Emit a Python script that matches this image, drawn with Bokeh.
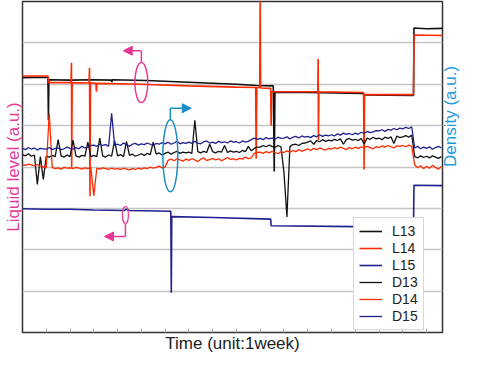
import math
from bokeh.plotting import figure
from bokeh.models import (Range1d, FixedTicker, LinearAxis, Legend, LegendItem,
                          Arrow, NormalHead, Ellipse, ColumnDataSource)
from bokeh.embed import file_html
from bokeh.resources import INLINE

# ---------------- data (time in weeks, values in arbitrary units) ----------------
L13_t = [0, 1.07, 1.09, 1.11, 2.0, 3.0, 3.74, 3.76, 3.78, 5.2, 7.0, 9.0, 9.83, 10.55, 10.59, 10.62, 12.0, 14.3, 14.4, 16.45, 16.47, 17.0, 17.69]
L13_v = [6.16, 6.17, 5.13, 6.11, 6.10, 6.11, 6.10, 6.05, 6.11, 6.09, 6.05, 6.00, 5.97, 5.96, 3.89, 5.80, 5.80, 5.78, 5.74, 5.73, 7.36, 7.34, 7.35]

L14_t = [0, 1.07, 1.10, 2.04, 2.06, 2.07, 2.09, 2.80, 2.82, 2.84, 2.86, 3.09, 3.11, 3.13, 5.0, 7.0, 9.0, 9.81, 9.83, 9.86, 9.98, 10.0, 10.02, 10.44, 10.46, 10.48, 12.42, 12.44, 12.45, 12.47, 14.35, 14.37, 14.39, 16.45, 16.47, 17.69]
L14_v = [6.20, 6.20, 6.04, 6.04, 6.52, 3.99, 6.04, 6.03, 6.40, 3.29, 6.03, 6.02, 5.82, 6.02, 6.00, 5.96, 5.93, 5.92, 4.20, 5.92, 5.92, 8.10, 5.91, 5.90, 5.00, 5.82, 5.82, 6.61, 4.65, 5.82, 5.80, 3.94, 5.75, 5.75, 7.19, 7.18]

L15_t = [0, 1.0, 2.0, 3.0, 4.3, 4.35, 4.5, 6.24, 6.26, 6.28, 8.0, 10.44, 10.46, 14.0, 16.45, 16.47, 17.69]
L15_v = [2.99, 2.98, 2.98, 2.96, 2.95, 2.98, 2.95, 2.93, 0.96, 2.80, 2.78, 2.74, 2.58, 2.56, 2.55, 3.56, 3.55]

density_step_weeks = 0.125

D13_v = [
    4.30, 4.27, 4.32, 4.26, 4.29, 3.58, 4.25, 3.70,
    4.26, 4.24, 4.28, 4.25, 4.66, 4.27, 4.24, 4.29,
    4.25, 4.65, 4.27, 4.24, 4.28, 4.26, 4.60, 4.25,
    4.28, 4.25, 4.70, 4.27, 4.24, 4.29, 4.26, 4.64,
    4.27, 4.30, 4.25, 4.62, 4.28, 4.31, 4.26, 4.29,
    4.32, 4.28, 4.33, 4.30, 4.60, 4.31, 4.34, 4.29,
    4.33, 4.36, 4.31, 4.35, 4.38, 4.33, 4.36, 4.34,
    4.36, 4.33, 5.13, 4.37, 4.34, 4.38, 4.35, 4.55,
    4.37, 4.34, 4.38, 4.36, 4.52, 4.35, 4.39, 4.36,
    4.38, 4.35, 4.40, 4.37, 4.50, 4.39, 4.45, 4.48,
    4.48, 4.52, 4.49, 4.53, 4.50, 4.47, 4.52, 4.49,
    3.87, 2.79, 4.50, 4.54, 4.55, 4.52, 4.57, 4.58,
    4.60, 4.63, 4.55, 4.64, 4.61, 4.66, 4.62, 4.65,
    4.63, 4.67, 4.64, 4.68, 4.55, 4.66, 4.69, 4.65,
    4.67, 4.64, 4.69, 4.56, 4.70, 4.67, 4.72, 4.68,
    4.70, 4.66, 4.72, 4.69, 4.73, 4.57, 4.75, 4.71,
    4.73, 4.76, 4.72, 4.77, 4.25, 4.22, 4.27, 4.23,
    4.26, 4.22, 4.27, 4.24, 4.21, 4.25,
]

D14_v = [
    4.06, 4.04, 4.07, 4.05, 4.03, 4.06, 4.02, 4.00,
    3.98, 5.30, 3.99, 3.96, 3.98, 3.95, 3.99, 3.97,
    3.98, 3.96, 3.99, 3.97, 3.95, 3.98, 3.96, 3.99,
    3.30, 3.97, 3.95, 3.98, 3.96, 3.94, 3.97, 3.95,
    3.96, 3.94, 3.97, 3.95, 3.93, 3.96, 3.94, 3.97,
    3.95, 3.98, 3.96, 4.00, 3.97, 3.99, 4.02, 3.98,
    4.00, 4.16, 4.19, 4.15, 4.20, 4.17, 4.14, 4.19,
    4.16, 4.20, 4.17, 4.13, 4.19, 4.22, 4.16, 4.18,
    4.21, 4.17, 4.20, 4.15, 4.19, 4.23, 4.18, 4.20,
    4.17, 4.21, 4.19, 4.24, 4.20, 4.22, 4.33, 4.35,
    4.36, 4.33, 4.37, 4.34, 4.38, 4.35, 4.32, 4.37,
    4.35, 4.39, 4.36, 4.40, 4.37, 4.42, 4.38, 4.41,
    4.44, 4.40, 4.45, 4.42, 4.46, 4.43, 4.41, 4.45,
    4.43, 4.47, 4.44, 4.48, 4.45, 4.42, 4.47, 4.44,
    4.48, 4.45, 4.49, 4.46, 4.50, 4.47, 4.44, 4.49,
    4.47, 4.51, 4.48, 4.52, 4.49, 4.46, 4.51, 4.50,
    4.52, 4.49, 4.53, 4.50, 4.05, 3.98, 4.03, 3.96,
    4.02, 3.97, 4.04, 3.99, 3.95, 4.01,
]

D15_v = [
    4.45, 4.42, 4.47, 4.43, 4.46, 4.41, 4.45, 4.44,
    4.43, 4.47, 4.42, 4.45, 4.46, 4.42, 4.44, 4.48,
    4.45, 4.43, 4.47, 4.44, 4.50, 4.46, 4.48, 4.52,
    4.53, 4.50, 4.55, 4.52, 4.54, 4.50, 5.30, 4.53,
    4.55, 4.52, 4.58, 4.54, 4.50, 4.55, 4.57, 4.53,
    4.56, 4.54, 4.58, 4.55, 4.52, 4.57, 4.55, 4.59,
    4.56, 4.60, 4.55, 4.58, 4.62, 4.56, 4.59, 4.57,
    4.60, 4.57, 4.62, 4.58, 4.56, 4.61, 4.63, 4.58,
    4.60, 4.57, 4.62, 4.59, 4.61, 4.58, 4.63, 4.60,
    4.61, 4.58, 4.63, 4.60, 4.62, 4.66, 4.70, 4.67,
    4.69, 4.66, 4.71, 4.68, 4.70, 4.67, 4.72, 4.69,
    4.70, 4.73, 4.68, 4.72, 4.74, 4.70, 4.75, 4.72,
    4.74, 4.71, 4.76, 4.73, 4.78, 4.74, 4.77, 4.75,
    4.78, 4.75, 4.80, 4.77, 4.82, 4.79, 4.81, 4.78,
    4.82, 4.79, 4.84, 4.81, 4.86, 4.83, 4.85, 4.88,
    4.87, 4.90, 4.86, 4.91, 4.89, 4.93, 4.90, 4.94,
    4.92, 4.96, 4.93, 4.97, 4.46, 4.50, 4.44, 4.48,
    4.45, 4.49, 4.43, 4.47, 4.50, 4.46,
]

x_ticks = list(range(1, 18))
y_grid = [1, 2, 3, 4, 5, 6, 7]
X_MAX = 17.67
Y_MAX = 8

# ---------------- styling ----------------
FONT = "Liberation Sans"
PINK = "#e8399a"
CYAN = "#1f9ad8"
ELL_BLUE = "#1b8cc4"
BLACK = "#111111"
RED = "#ff2a00"
NAVY = "#20208f"

p = figure(width=472, height=355, output_backend="svg", toolbar_location=None,
           x_range=Range1d(0, X_MAX), y_range=Range1d(0, Y_MAX),
           min_border_left=18, min_border_right=20, min_border_top=1, min_border_bottom=0)

p.outline_line_color = "#333333"
p.outline_line_width = 1.5
p.xgrid.visible = False
p.ygrid.ticker = FixedTicker(ticks=y_grid)
p.ygrid.grid_line_color = "#c4c4c4"
p.ygrid.grid_line_width = 1.5

# x axis: only small inward ticks (as minor ticks, so no tick labels)
xa = p.xaxis[0]
xa.ticker = FixedTicker(ticks=[], minor_ticks=x_ticks)
xa.minor_tick_in = 4
xa.minor_tick_out = 0
xa.minor_tick_line_color = "#a0a0a0"
xa.minor_tick_line_width = 1
xa.major_tick_line_color = None
xa.major_tick_in = 0
xa.major_tick_out = 0
xa.axis_line_color = None
xa.major_label_standoff = 0
xa.major_label_text_font_size = "1px"
xa.axis_label = "Time (unit:1week)"
xa.axis_label_text_font = FONT
xa.axis_label_text_font_size = "17px"
xa.axis_label_text_font_style = "normal"
xa.axis_label_text_color = "#222222"
xa.axis_label_standoff = 1


def label_only_axis(ax, text, color, standoff):
    ax.ticker = FixedTicker(ticks=[])
    ax.major_tick_line_color = None
    ax.minor_tick_line_color = None
    ax.major_tick_in = 0
    ax.major_tick_out = 0
    ax.minor_tick_out = 0
    ax.axis_line_color = None
    ax.major_label_standoff = 0
    ax.major_label_text_font_size = "1px"
    ax.axis_label = text
    ax.axis_label_text_font = FONT
    ax.axis_label_text_font_size = "17px"
    ax.axis_label_text_font_style = "normal"
    ax.axis_label_text_color = color
    ax.axis_label_standoff = standoff


label_only_axis(p.yaxis[0], "Liquid level (a.u.)", PINK, 0)

ra = LinearAxis()
label_only_axis(ra, "Density (a.u.)", CYAN, 8)
# make the right-hand label read bottom-to-top like the reference
try:
    ra.axis_label_orientation = math.pi / 2
except Exception:
    pass
p.add_layout(ra, "right")

# ---------------- lines ----------------
def dx(vals):
    return [i * density_step_weeks for i in range(len(vals))]

r_L13 = p.line(L13_t, L13_v, line_color=BLACK, line_width=1.6)
r_L14 = p.line(L14_t, L14_v, line_color=RED, line_width=1.6)
r_L15 = p.line(L15_t, L15_v, line_color=NAVY, line_width=1.6)
r_D13 = p.line(dx(D13_v), D13_v, line_color=BLACK, line_width=1.3)
r_D14 = p.line(dx(D14_v), D14_v, line_color=RED, line_width=1.3)
r_D15 = p.line(dx(D15_v), D15_v, line_color=NAVY, line_width=1.3)

# ---------------- annotations (ellipses + bent arrows) ----------------
def marker(cx, cy, w, h, color, lw, y0, y1, x_end):
    p.add_glyph(ColumnDataSource(dict(x=[cx], y=[cy])),
                Ellipse(x="x", y="y", width=w, height=h, width_units="screen", height_units="screen",
                        fill_color=None, line_color=color, line_width=lw))
    p.segment(x0=[cx], y0=[y0], x1=[cx], y1=[y1], line_color=color, line_width=1.5)
    p.add_layout(Arrow(x_start=cx, y_start=y1, x_end=x_end, y_end=y1, line_color=color, line_width=1.5,
                       end=NormalHead(size=9, fill_color=color, line_color=color)))

marker(5.0, 6.04, 13, 40, PINK, 1.5, 6.52, 6.81, 4.24)
marker(6.22, 4.27, 15, 72, ELL_BLUE, 1.5, 5.13, 5.42, 7.10)
marker(4.33, 2.84, 6, 17, PINK, 1.2, 2.63, 2.32, 3.45)

# ---------------- legend ----------------
legend = Legend(items=[
    LegendItem(label="L13", renderers=[r_L13]),
    LegendItem(label="L14", renderers=[r_L14]),
    LegendItem(label="L15", renderers=[r_L15]),
    LegendItem(label="D13", renderers=[r_D13]),
    LegendItem(label="D14", renderers=[r_D14]),
    LegendItem(label="D15", renderers=[r_D15]),
], location=(331, 2))
legend.label_text_font = FONT
legend.label_text_font_size = "14px"
legend.label_text_color = "#222222"
legend.glyph_width = 23
legend.glyph_height = 14
legend.label_height = 14
legend.label_standoff = 10
legend.spacing = 1
legend.padding = 5
legend.margin = 0
legend.border_line_color = "#b0b0b0"
legend.border_line_width = 1
legend.background_fill_alpha = 1.0
p.add_layout(legend, "center")

open("out.html", "w").write(file_html(p, INLINE))
